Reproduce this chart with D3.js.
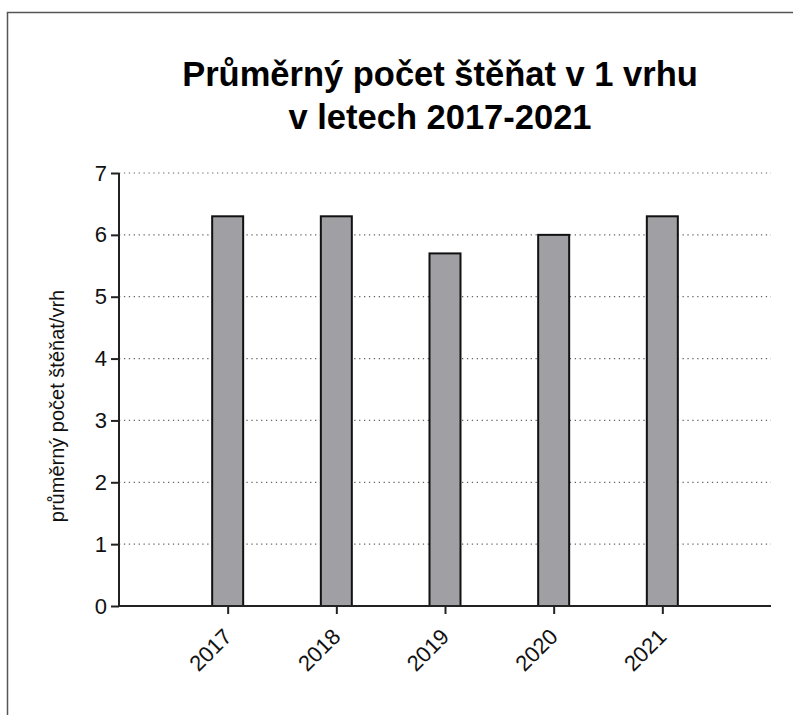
<!DOCTYPE html>
<html><head><meta charset="utf-8">
<script src="https://cdn.jsdelivr.net/npm/d3@7/dist/d3.min.js"></script>
<style>body{margin:0;background:#fff}svg{display:block}</style>
</head><body>
<svg id="c" width="793" height="715"></svg>
<script>
const years = ["2017","2018","2019","2020","2021"];
const values = [6.3, 6.3, 5.7, 6.0, 6.3];
const yTicks = [0,1,2,3,4,5,6,7];
const titleLines = ["Průměrný počet štěňat v 1 vrhu", "v letech 2017-2021"];
const yLabel = "průměrný počet štěňat/vrh";

(function(){
const svg = d3.select("#c");
const font = "'Liberation Sans', Arial, sans-serif";
const pL = 119, pR = 771, pT = 173, pB = 606;

svg.append("rect").attr("x",7.5).attr("y",12.5).attr("width",900).attr("height",900)
  .attr("fill","none").attr("stroke","#555").attr("stroke-width",1.5);

const x = d3.scalePoint().domain(years).range([pL,pR]).padding(1);
const y = d3.scaleLinear().domain([0,7]).range([pB,pT]);

// gridlines
svg.append("g").selectAll("line").data(yTicks.filter(d=>d>0)).join("line")
  .attr("x1",pL).attr("x2",pR).attr("y1",d=>y(d)).attr("y2",d=>y(d))
  .attr("stroke","#666").attr("stroke-width",1.2).attr("stroke-dasharray","1.3,3.6");

// bars
const bw = 31;
svg.append("g").selectAll("rect").data(values).join("rect")
  .attr("x",(d,i)=>x(years[i])-bw/2).attr("width",bw)
  .attr("y",d=>y(d)).attr("height",d=>y(0)-y(d))
  .attr("fill","#a09fa4").attr("stroke","#111").attr("stroke-width",2);

// y axis
const ya = svg.append("g").attr("transform",`translate(${pL},0)`)
  .call(d3.axisLeft(y).tickValues(yTicks).tickSize(8).tickPadding(4).tickFormat(d3.format("d")));
ya.select(".domain").attr("stroke","#222").attr("stroke-width",2).attr("d",`M0,${pT}V${pB}`);
ya.selectAll(".tick line").attr("stroke","#222").attr("stroke-width",2);
ya.selectAll(".tick text").attr("font-family",font).attr("font-size",22).attr("fill","#111");

// x axis
const xa = svg.append("g").attr("transform",`translate(0,${pB})`)
  .call(d3.axisBottom(x).tickSize(8).tickSizeOuter(0));
xa.select(".domain").attr("stroke","#222").attr("stroke-width",2).attr("d",`M${pL},0H${pR}`);
xa.selectAll(".tick line").attr("stroke","#222").attr("stroke-width",2);
xa.selectAll(".tick text").attr("font-family",font).attr("font-size",22).attr("fill","#111")
  .attr("text-anchor","end").attr("y",0).attr("dy",0)
  .attr("transform","translate(5,32) rotate(-45)");

// y label
svg.append("text").attr("transform",`translate(64,406) rotate(-90)`)
  .attr("text-anchor","middle").attr("font-family",font).attr("font-size",20).attr("fill","#111")
  .text(yLabel);

// title
svg.append("g").selectAll("text").data(titleLines).join("text")
  .attr("x",440).attr("y",(d,i)=>86+i*43).attr("text-anchor","middle")
  .attr("font-family",font).attr("font-weight","bold").attr("font-size",34.5).attr("fill","#000")
  .text(d=>d);
})();
</script>
</body></html>
